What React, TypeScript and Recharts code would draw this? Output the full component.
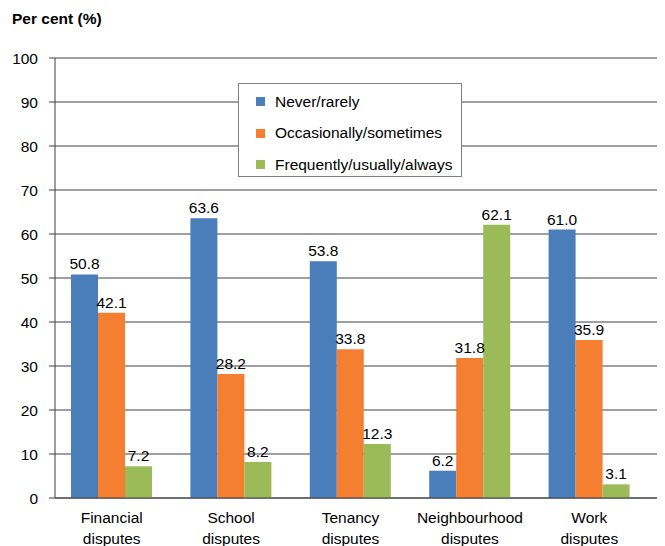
import React from 'react'
import {
  BarChart,
  Bar,
  XAxis,
  YAxis,
  CartesianGrid,
  LabelList,
} from 'recharts'

const CATEGORIES = [
  'Financial disputes',
  'School disputes',
  'Tenancy disputes',
  'Neighbourhood disputes',
  'Work disputes',
]
const NEVER = [50.8, 63.6, 53.8, 6.2, 61.0]
const OCCASIONALLY = [42.1, 28.2, 33.8, 31.8, 35.9]
const FREQUENTLY = [7.2, 8.2, 12.3, 62.1, 3.1]
const Y_TICKS = [0, 10, 20, 30, 40, 50, 60, 70, 80, 90, 100]

const SERIES = [
  { key: 'never', name: 'Never/rarely', colour: '#4a7ebb' },
  { key: 'occasionally', name: 'Occasionally/sometimes', colour: '#f47f30' },
  { key: 'frequently', name: 'Frequently/usually/always', colour: '#9bbb59' },
]

const data = CATEGORIES.map((c, i) => ({
  category: c,
  never: NEVER[i],
  occasionally: OCCASIONALLY[i],
  frequently: FREQUENTLY[i],
}))

const FONT = 'Arial, "Liberation Sans", sans-serif'
const FS = 15.5

// two-line category label: "Financial" / "disputes"
function CategoryTick({ x, y, payload }: any) {
  const words = String(payload.value).split(' ')
  return (
    <g transform={`translate(${x},${y})`}>
      {words.map((w, i) => (
        <text
          key={i}
          x={0}
          y={17 + i * 21}
          textAnchor="middle"
          fontSize={FS}
          fontFamily={FONT}
          fill="#000"
        >
          {w}
        </text>
      ))}
    </g>
  )
}

// legend box sits inside the plot, so keep it out of recharts' layout
function LegendBox() {
  return (
    <div
      style={{
        position: 'absolute',
        left: 238,
        top: 83,
        width: 224,
        height: 94,
        boxSizing: 'border-box',
        border: '1px solid #808080',
        background: '#fff',
        padding: '2px 0 0 17px',
        fontFamily: FONT,
        fontSize: FS,
        color: '#000',
        zIndex: 2,
      }}
    >
      {SERIES.map((s) => (
        <div key={s.key} style={{ display: 'flex', alignItems: 'center', height: 31.5 }}>
          <span
            style={{
              display: 'inline-block',
              width: 9,
              height: 9,
              background: s.colour,
              marginRight: 10,
            }}
          />
          <span>{s.name}</span>
        </div>
      ))}
    </div>
  )
}

export default function App() {
  return (
    <div style={{ position: 'absolute', left: 0, top: 0, width: 665, height: 546, background: '#fff' }}>
      <div
        style={{
          position: 'absolute',
          left: 12,
          top: 10,
          fontFamily: FONT,
          fontSize: FS,
          fontWeight: 'bold',
          color: '#000',
          zIndex: 2,
        }}
      >
        Per cent (%)
      </div>
      <BarChart
        width={665}
        height={546}
        data={data}
        margin={{ top: 58, right: 8, left: 0, bottom: 0 }}
        barGap={0}
        barSize={27}
      >
        <CartesianGrid vertical={false} stroke="#404040" strokeWidth={1} />
        <XAxis
          dataKey="category"
          height={48}
          tickLine={false}
          axisLine={{ stroke: '#404040' }}
          tick={<CategoryTick />}
          interval={0}
          padding={{ left: -3, right: 8 }}
        />
        <YAxis
          width={55}
          domain={[0, 100]}
          ticks={Y_TICKS}
          interval={0}
          tickSize={6}
          tickMargin={11}
          axisLine={{ stroke: '#404040' }}
          tickLine={{ stroke: '#404040' }}
          tick={{ fontSize: FS, fontFamily: FONT, fill: '#000' }}
        />
        <YAxis
          yAxisId="frame"
          orientation="right"
          width={0}
          domain={[0, 100]}
          tick={false}
          tickLine={false}
          axisLine={{ stroke: '#404040' }}
        />
        {SERIES.map((s) => (
          <Bar
            key={s.key}
            dataKey={s.key}
            name={s.name}
            fill={s.colour}
            isAnimationActive={false}
          >
            <LabelList
              dataKey={s.key}
              position="top"
              offset={5}
              formatter={(v: any) => Number(v).toFixed(1)}
              style={{ fontSize: FS, fontFamily: FONT, fill: '#000' }}
            />
          </Bar>
        ))}
      </BarChart>
      <LegendBox />
    </div>
  )
}
